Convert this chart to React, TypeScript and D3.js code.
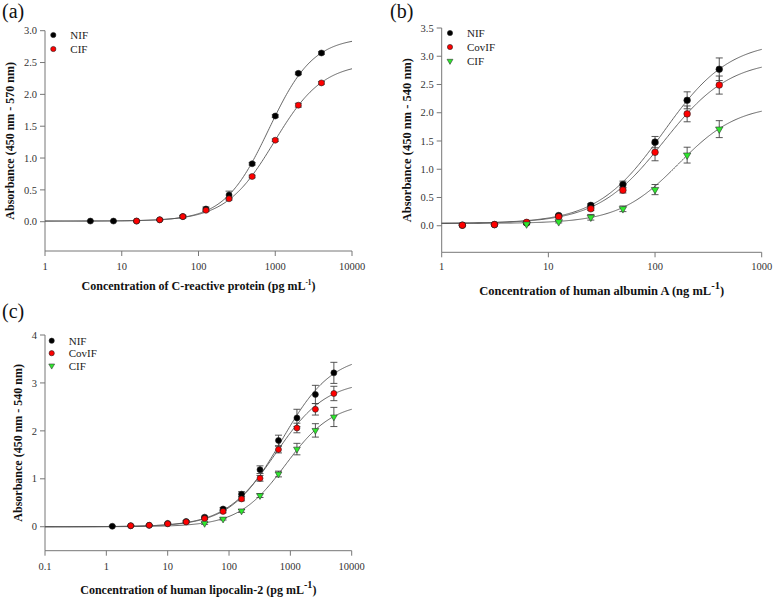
import React from 'react';
import * as d3 from 'd3';

// ---------- Data ----------
// Panel (a): C-reactive protein (pg/mL)
const crpConcNIF = [3.9, 7.8, 15.6, 31.25, 62.5, 125, 250, 500, 1000, 2000, 4000];
const crpNIF = [0.01, 0.01, 0.01, 0.03, 0.08, 0.2, 0.42, 0.91, 1.66, 2.33, 2.65];
const crpNIFErr = [0.01, 0.01, 0.01, 0.01, 0.02, 0.03, 0.06, 0.02, 0.02, 0.02, 0.02];
const crpConcCIF = [15.6, 31.25, 62.5, 125, 250, 500, 1000, 2000, 4000];
const crpCIF = [0.01, 0.03, 0.08, 0.18, 0.36, 0.71, 1.28, 1.83, 2.18];
const crpCIFErr = [0.01, 0.01, 0.02, 0.02, 0.02, 0.02, 0.02, 0.03, 0.02];
// 4PL fit parameters: [bottom, top, EC50, hill]
const crpFitNIF = [0.01, 2.9, 827, 1.5];
const crpFitCIF = [0.01, 2.5, 971, 1.37];

// Panel (b): human albumin A (ng/mL)
const albConc = [1.5625, 3.125, 6.25, 12.5, 25, 50, 100, 200, 400];
const albNIF = [0.01, 0.02, 0.05, 0.18, 0.36, 0.73, 1.48, 2.22, 2.77];
const albNIFErr = [0.01, 0.01, 0.01, 0.02, 0.03, 0.06, 0.1, 0.15, 0.2];
const albCovIF = [0.01, 0.02, 0.06, 0.16, 0.3, 0.63, 1.3, 1.98, 2.49];
const albCovIFErr = [0.01, 0.01, 0.01, 0.02, 0.03, 0.05, 0.15, 0.14, 0.16];
const albConcCIF = [6.25, 12.5, 25, 50, 100, 200, 400];
const albCIF = [0.03, 0.07, 0.15, 0.3, 0.64, 1.25, 1.71];
const albCIFErr = [0.01, 0.02, 0.05, 0.05, 0.09, 0.14, 0.15];
const albFitNIF = [0.04, 3.28, 120, 1.4];
const albFitCovIF = [0.04, 2.95, 121, 1.4];
const albFitCIF = [0.04, 2.15, 166, 1.55];

// Panel (c): human lipocalin-2 (pg/mL)
const lcnConc = [1.25, 2.5, 5, 10, 20, 40, 80, 160, 320, 640, 1280, 2560, 5120];
const lcnNIF = [0.01, 0.02, 0.03, 0.07, 0.11, 0.2, 0.37, 0.68, 1.19, 1.8, 2.27, 2.76, 3.21];
const lcnNIFErr = [0.01, 0.01, 0.01, 0.01, 0.02, 0.02, 0.03, 0.05, 0.08, 0.11, 0.18, 0.19, 0.22];
const lcnConcCovIF = [2.5, 5, 10, 20, 40, 80, 160, 320, 640, 1280, 2560, 5120];
const lcnCovIF = [0.02, 0.03, 0.06, 0.1, 0.17, 0.32, 0.58, 1.01, 1.61, 2.06, 2.45, 2.78];
const lcnCovIFErr = [0.01, 0.01, 0.01, 0.02, 0.02, 0.03, 0.04, 0.06, 0.07, 0.1, 0.12, 0.15];
const lcnConcCIF = [40, 80, 160, 320, 640, 1280, 2560, 5120];
const lcnCIF = [0.07, 0.16, 0.33, 0.65, 1.1, 1.62, 2.01, 2.29];
const lcnCIFErr = [0.02, 0.02, 0.03, 0.04, 0.06, 0.12, 0.14, 0.2];
const lcnFitNIF = [0, 3.6, 720, 1.05];
const lcnFitCovIF = [0, 3.05, 573, 1.05];
const lcnFitCIF = [0, 2.6, 842, 1.13];

const xTicksA = [1, 10, 100, 1000, 10000];
const yTicksA = [0, 0.5, 1, 1.5, 2, 2.5, 3];
const xTicksB = [1, 10, 100, 1000];
const yTicksB = [0, 0.5, 1, 1.5, 2, 2.5, 3, 3.5];
const xTicksC = [0.1, 1, 10, 100, 1000, 10000];
const yTicksC = [0, 1, 2, 3, 4];

const FONT = "'Liberation Serif', 'Times New Roman', serif";
const AXIS = '#777';

type Series = {
  name: string;
  x: number[];
  y: number[];
  err: number[];
  fit: number[];
  kind: 'black' | 'red' | 'green';
};

type PanelProps = {
  label: string;
  labelX: number;
  labelY: number;
  xRange: [number, number];
  xDomain: [number, number];
  yRange: [number, number];
  yDomain: [number, number];
  xTicks: number[];
  yTicks: number[];
  yFmt: (v: number) => string;
  series: Series[];
  yTitle: string;
  yTitleX: number;
  xTitle: string;
  xTitleY: number;
  titleSize: number;
  supBig: boolean;
  xLabelY: number;
  legendX: number;
  legendY: number;
  legendStep: number;
  r: number;
};

const fill = (k: string) => (k === 'black' ? '#000' : k === 'red' ? '#ff0000' : '#2ee82e');

function Marker({ kind, cx, cy, r }: { kind: string; cx: number; cy: number; r: number }) {
  if (kind === 'green') {
    const p = d3.symbol().type(d3.symbolTriangle).size(r * r * 2.2)();
    return (
      <path d={p || ''} transform={`translate(${cx},${cy}) rotate(180)`} fill={fill(kind)} stroke="#333" strokeWidth={0.6} />
    );
  }
  return <circle cx={cx} cy={cy} r={r} fill={fill(kind)} stroke="#222" strokeWidth={0.6} />;
}

function Panel(p: PanelProps) {
  const x = d3.scaleLog().domain(p.xDomain).range(p.xRange);
  const y = d3.scaleLinear().domain(p.yDomain).range(p.yRange);
  const x0 = p.xRange[0];
  const yb = p.yRange[0];
  const logs = d3.range(0, 301).map((i) => {
    const l0 = Math.log10(p.xDomain[0]);
    const l1 = Math.log10(p.xDomain[1]);
    return Math.pow(10, l0 + ((l1 - l0) * i) / 300);
  });
  const line = d3
    .line<number[]>()
    .x((d) => d[0])
    .y((d) => d[1]);
  const fitVal = (f: number[], c: number) => f[0] + (f[1] - f[0]) / (1 + Math.pow(f[2] / c, f[3]));
  const xMid = (p.xRange[0] + p.xRange[1]) / 2;
  const yMid = (p.yRange[0] + p.yRange[1]) / 2;
  return (
    <g>
      <text x={p.labelX} y={p.labelY} fontFamily={FONT} fontSize={20} fill="#111">
        {p.label}
      </text>
      {/* axes */}
      <line x1={x0} x2={x0} y1={yb} y2={p.yRange[1]} stroke={AXIS} strokeWidth={1} />
      <line x1={x0} x2={p.xRange[1]} y1={yb} y2={yb} stroke={AXIS} strokeWidth={1} />
      {p.yTicks.map((t) => (
        <g key={'y' + t}>
          <line x1={x0 - 5} x2={x0} y1={y(t)} y2={y(t)} stroke={AXIS} />
          <text x={x0 - 8} y={y(t)} dy="0.35em" textAnchor="end" fontFamily={FONT} fontSize={10.5} fill="#333">
            {p.yFmt(t)}
          </text>
        </g>
      ))}
      {p.xTicks.map((t) => (
        <g key={'x' + t}>
          <line x1={x(t)} x2={x(t)} y1={yb} y2={yb + 5} stroke={AXIS} />
          <text x={x(t)} y={p.xLabelY} textAnchor="middle" fontFamily={FONT} fontSize={10.5} fill="#333">
            {String(t)}
          </text>
        </g>
      ))}
      {/* titles */}
      <text
        transform={`translate(${p.yTitleX},${yMid}) rotate(-90)`}
        textAnchor="middle"
        fontFamily={FONT}
        fontSize={p.titleSize}
        fontWeight="bold"
        fill="#111"
      >
        {p.yTitle}
      </text>
      <text x={xMid} y={p.xTitleY} textAnchor="middle" fontFamily={FONT} fontSize={p.titleSize} fontWeight="bold" fill="#111">
        {p.xTitle}
        <tspan dy={p.supBig ? -6 : -5} fontSize={p.supBig ? p.titleSize * 0.85 : p.titleSize * 0.6}>
          -1
        </tspan>
        <tspan dy={p.supBig ? 6 : 5}>)</tspan>
      </text>
      {/* fit curves */}
      {p.series.map((s) => (
        <path
          key={'c' + s.name}
          d={line(logs.map((c) => [x(c), y(fitVal(s.fit, c))])) || ''}
          fill="none"
          stroke="#555"
          strokeWidth={0.9}
        />
      ))}
      {/* error bars */}
      {p.series.map((s) =>
        s.x.map((c, i) => {
          const cx = x(c);
          const y1 = y(s.y[i] - s.err[i]);
          const y2 = y(s.y[i] + s.err[i]);
          return (
            <g key={'e' + s.name + i} stroke="#444" strokeWidth={0.9}>
              <line x1={cx} x2={cx} y1={y1} y2={y2} />
              <line x1={cx - 3.5} x2={cx + 3.5} y1={y1} y2={y1} />
              <line x1={cx - 3.5} x2={cx + 3.5} y1={y2} y2={y2} />
            </g>
          );
        })
      )}
      {/* markers */}
      {p.series.map((s) =>
        s.x.map((c, i) => <Marker key={'m' + s.name + i} kind={s.kind} cx={x(c)} cy={y(s.y[i])} r={p.r} />)
      )}
      {/* legend */}
      {p.series.map((s, i) => (
        <g key={'l' + s.name}>
          <Marker kind={s.kind} cx={p.legendX} cy={p.legendY + i * p.legendStep} r={2.6} />
          <text
            x={p.legendX + 17}
            y={p.legendY + i * p.legendStep}
            dy="0.35em"
            fontFamily={FONT}
            fontSize={11}
            fill="#222"
          >
            {s.name}
          </text>
        </g>
      ))}
    </g>
  );
}

export default function App() {
  const f1 = (v: number) => v.toFixed(1);
  const f0 = (v: number) => String(v);
  return (
    <svg width={774} height={599} style={{ position: 'absolute', left: 0, top: 0, background: '#fff' }}>
      <rect width={774} height={599} fill="#fff" />
      <Panel
        label="(a)"
        labelX={2}
        labelY={18}
        xRange={[45, 352]}
        xDomain={[1, 10000]}
        yRange={[251, 30.7]}
        yDomain={[-0.46, 3.0]}
        xTicks={xTicksA}
        yTicks={yTicksA}
        yFmt={f1}
        series={[
          { name: 'NIF', x: crpConcNIF, y: crpNIF, err: crpNIFErr, fit: crpFitNIF, kind: 'black' },
          { name: 'CIF', x: crpConcCIF, y: crpCIF, err: crpCIFErr, fit: crpFitCIF, kind: 'red' },
        ]}
        yTitle="Absorbance (450 nm - 570 nm)"
        yTitleX={14}
        xTitle="Concentration of C-reactive protein (pg mL"
        xTitleY={290}
        titleSize={12}
        supBig={false}
        xLabelY={270}
        legendX={53.3}
        legendY={35}
        legendStep={14}
        r={3}
      />
      <Panel
        label="(b)"
        labelX={390}
        labelY={18}
        xRange={[441.7, 761.7]}
        xDomain={[1, 1000]}
        yRange={[252.3, 28]}
        yDomain={[-0.47, 3.5]}
        xTicks={xTicksB}
        yTicks={yTicksB}
        yFmt={f1}
        series={[
          { name: 'NIF', x: albConc, y: albNIF, err: albNIFErr, fit: albFitNIF, kind: 'black' },
          { name: 'CovIF', x: albConc, y: albCovIF, err: albCovIFErr, fit: albFitCovIF, kind: 'red' },
          { name: 'CIF', x: albConcCIF, y: albCIF, err: albCIFErr, fit: albFitCIF, kind: 'green' },
        ]}
        yTitle="Absorbance (450 nm - 540 nm)"
        yTitleX={411}
        xTitle="Concentration of human albumin A (ng mL"
        xTitleY={295}
        titleSize={12.5}
        supBig={true}
        xLabelY={270}
        legendX={450}
        legendY={33}
        legendStep={14}
        r={3.3}
      />
      <Panel
        label="(c)"
        labelX={2}
        labelY={318}
        xRange={[45, 351.7]}
        xDomain={[0.1, 10000]}
        yRange={[550.7, 335]}
        yDomain={[-0.5, 4]}
        xTicks={xTicksC}
        yTicks={yTicksC}
        yFmt={f0}
        series={[
          { name: 'NIF', x: lcnConc, y: lcnNIF, err: lcnNIFErr, fit: lcnFitNIF, kind: 'black' },
          { name: 'CovIF', x: lcnConcCovIF, y: lcnCovIF, err: lcnCovIFErr, fit: lcnFitCovIF, kind: 'red' },
          { name: 'CIF', x: lcnConcCIF, y: lcnCIF, err: lcnCIFErr, fit: lcnFitCIF, kind: 'green' },
        ]}
        yTitle="Absorbance (450 nm - 540 nm)"
        yTitleX={22}
        xTitle="Concentration of human lipocalin-2 (pg mL"
        xTitleY={594}
        titleSize={12}
        supBig={true}
        xLabelY={570}
        legendX={51.7}
        legendY={340.7}
        legendStep={12.5}
        r={3}
      />
    </svg>
  );
}
